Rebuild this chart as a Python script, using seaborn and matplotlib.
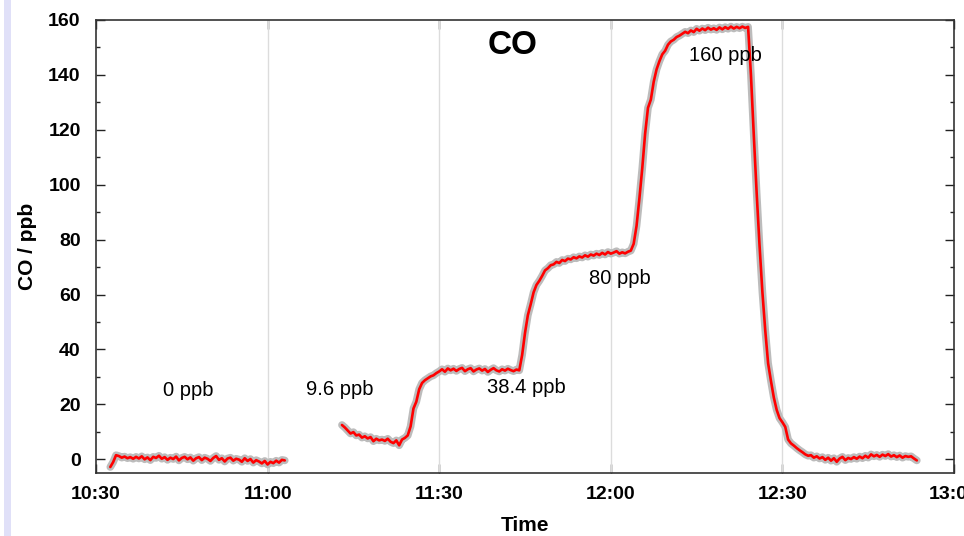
import numpy as np
import pandas as pd
import matplotlib
matplotlib.use("Agg")
import matplotlib.pyplot as plt
import matplotlib.patheffects as pe
from matplotlib.patches import Rectangle
from matplotlib.ticker import MultipleLocator
import seaborn as sns

# ---- data (minutes after 10:30, CO in ppb) ----
seg1_start = 2.5
seg1_step = 0.5
seg1_values = [-2.8, -1.0, 1.5, 1.2, 0.6, 1.0, 0.4, 0.8, 0.2, 0.9,
               0.3, 1.1, 0.0, 0.7, -0.3, 0.9, 0.5, 1.3, 0.2, 0.8,
               -0.2, 0.6, 0.1, 1.0, -0.4, 0.5, 0.9, 0.0, 0.7, -0.5,
               0.4, 0.8, -0.3, 0.6, 0.2, -0.6, 0.5, 1.2, -0.2, 0.4,
               -0.8, 0.3, 0.6, -0.5, 0.2, -0.1, -0.9, 0.4, -0.6, 0.1,
               -1.2, -0.3, -0.8, -1.5, -0.6, -1.9, -0.9, -1.4, -0.5, -1.2,
               -0.2, -0.4]

seg2_start = 43.0
seg2_step = 0.5
seg2_values = [12.5, 11.6, 10.5, 9.4, 9.9, 8.7, 9.0, 7.9, 8.4, 7.6,
               8.1, 6.6, 7.5, 6.9, 7.2, 6.7, 7.5, 6.4, 5.9, 6.9,
               5.1, 7.2, 7.8, 8.7, 12.0, 18.5, 21.0, 25.5, 27.8, 28.8,
               29.5, 30.2, 30.6, 31.4, 32.0, 32.8, 31.9, 33.1, 32.4, 33.0,
               32.2, 32.9, 33.3, 32.1, 32.8, 33.2, 32.0, 32.7, 33.1, 32.3,
               32.9, 31.8, 32.6, 33.2, 32.4, 32.0, 32.8, 32.3, 33.0, 32.5,
               32.1, 32.7, 32.4, 38.0, 46.0, 52.5, 56.5, 60.8, 63.5, 65.0,
               66.8, 68.8, 69.6, 70.7, 71.0, 71.9, 71.5, 72.6, 72.2, 73.1,
               72.8, 73.6, 73.2, 73.9, 73.5, 74.3, 73.8, 74.6, 74.2, 74.9,
               74.4, 75.2, 74.6, 75.5, 74.9, 75.3, 75.8, 74.9, 75.4, 75.0,
               75.6, 76.0, 78.5, 85.0, 95.0, 106.0, 118.6, 128.0, 131.0, 137.5,
               142.0, 145.0, 147.5, 148.8, 151.0, 152.2, 152.8, 153.8, 154.3, 155.0,
               155.7, 155.2, 156.2, 155.6, 156.8, 156.1, 156.9, 156.3, 157.2, 156.5,
               157.0, 156.4, 157.3, 156.6, 157.4, 156.8, 157.6, 156.9, 157.5, 157.0,
               157.6, 157.1, 157.5, 140.0, 118.0, 97.0, 78.0, 61.0, 47.0, 35.0,
               28.5, 22.5, 18.0, 15.0, 13.5, 11.8, 7.2, 5.8, 5.0, 4.1,
               3.3, 2.6, 1.8, 1.3, 1.5, 0.6, 1.1, 0.3, 0.8, -0.2,
               0.6, -0.5, 0.4, -0.9, 0.3, 0.9, -0.3, 0.5, 0.1, 0.8,
               0.2, 1.0, 0.4, 1.3, 0.6, 1.8, 1.1, 1.6, 0.9, 1.7,
               1.2, 1.9, 1.0, 1.5, 0.8, 1.4, 0.6, 1.2, 0.9, 1.1,
               0.3, -0.4]

tick_minutes = [0, 30, 60, 90, 120, 150]
tick_labels = ["10:30", "11:00", "11:30", "12:00", "12:30", "13:00"]

annot_texts = ["0 ppb", "9.6 ppb", "38.4 ppb", "80 ppb", "160 ppb"]
annot_x = [16.1, 42.7, 75.3, 91.6, 110.0]
annot_y = [25.1, 25.5, 26.2, 65.9, 147.2]

title_text = "CO"
x_label = "Time"
y_label = "CO / ppb"

# ---- build frames ----
df1 = pd.DataFrame({"t": seg1_start + seg1_step * np.arange(len(seg1_values)),
                    "co": seg1_values})
df2 = pd.DataFrame({"t": seg2_start + seg2_step * np.arange(len(seg2_values)),
                    "co": seg2_values})

sns.set_theme(style="white")
plt.rcParams["font.family"] = ["Liberation Sans", "DejaVu Sans"]
plt.rcParams["text.color"] = "black"
plt.rcParams["axes.labelcolor"] = "black"
plt.rcParams["xtick.color"] = "black"
plt.rcParams["ytick.color"] = "black"

fig = plt.figure(figsize=(9.64, 5.36), dpi=100)
fig.patch.set_facecolor("white")
fig.patches.append(Rectangle((4 / 964, 0), 7 / 964, 1, transform=fig.transFigure,
                             facecolor="#e0e0f8", edgecolor="none", zorder=0))
ax = fig.add_axes([96 / 964, 1 - 472.5 / 536, (954 - 96) / 964, (472.5 - 20) / 536])

effects = [pe.Stroke(linewidth=5.5, foreground="#bcbcbc"), pe.Normal()]
for d in (df1, df2):
    sns.lineplot(data=d, x="t", y="co", ax=ax, color="#ff0000", linewidth=1.9,
                 path_effects=effects, zorder=3)

ax.set_xlim(0, 150)
ax.set_ylim(-4.8, 160)

for m in tick_minutes[1:-1]:
    ax.axvline(m, color="#dcdcdc", linewidth=1.0, zorder=1)

ax.set_xticks(tick_minutes)
ax.set_xticklabels(tick_labels)
ax.yaxis.set_major_locator(MultipleLocator(20))
ax.yaxis.set_minor_locator(MultipleLocator(10))

ax.tick_params(axis="both", which="major", direction="in", length=6.5, width=1.0,
               color="#222222", labelcolor="black", labelsize=14,
               top=True, right=True, bottom=True, left=True)
ax.tick_params(axis="y", which="minor", direction="in", length=3, width=1.0,
               color="#222222", left=True, right=True)
ax.tick_params(axis="x", which="major", pad=10)
ax.tick_params(axis="y", which="major", pad=11)
for lab in ax.get_xticklabels() + ax.get_yticklabels():
    lab.set_fontweight("bold")

for s in ax.spines.values():
    s.set_color("#333333")
    s.set_linewidth(1.2)

ax.set_xlabel(x_label, fontsize=15, fontweight="bold", labelpad=9, color="black")
ax.set_ylabel(y_label, fontsize=15, fontweight="bold", labelpad=8, color="black")

ax.text(72.9, 150.8, title_text, fontsize=24, fontweight="bold", ha="center", va="center")
for txt, xx, yy in zip(annot_texts, annot_x, annot_y):
    ax.text(xx, yy, txt, fontsize=14.5, ha="center", va="center", color="black", zorder=4)

fig.savefig("out.png", dpi=100)
